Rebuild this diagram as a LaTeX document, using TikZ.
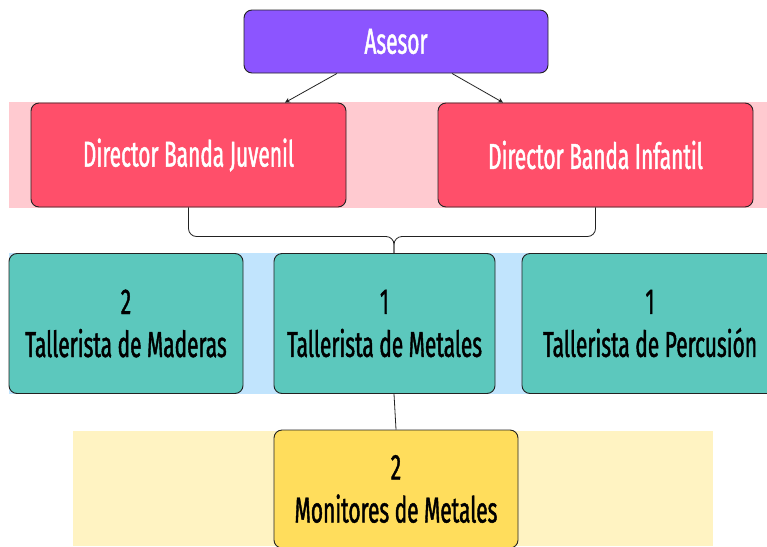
\documentclass[tikz,border=0pt]{standalone}
\usepackage{fontspec}
\setmainfont{Fira Sans}[FakeStretch=0.58, FakeBold=1.2]
\usetikzlibrary{arrows.meta}

\definecolor{asesorc}{HTML}{8C55FF}
\definecolor{dirc}{HTML}{FF4F6A}
\definecolor{pinkband}{HTML}{FFCAD0}
\definecolor{tallc}{HTML}{5CC8BD}
\definecolor{blueband}{HTML}{C1E4FD}
\definecolor{monc}{HTML}{FFDD5C}
\definecolor{yellowband}{HTML}{FFF3C2}
\definecolor{edgec}{HTML}{222222}

\tikzset{
  orgbox/.style={draw=edgec, line width=0.9pt, rounded corners=8pt, align=center,
    font=\fontsize{36}{43}\selectfont, inner sep=0pt},
  boxasesor/.style={orgbox, fill=asesorc, text=white, minimum width=304pt, minimum height=63pt},
  boxdir/.style={orgbox, fill=dirc, text=white, minimum width=315pt, minimum height=104pt},
  boxtall/.style={orgbox, fill=tallc, text=black, minimum height=140pt},
  boxmon/.style={orgbox, fill=monc, text=black, minimum width=244pt, minimum height=118pt},
  link/.style={draw=edgec, line width=0.8pt}
}

\begin{document}
\begin{tikzpicture}[x=1pt, y=-1pt]
    \clip (0,0) rectangle (767,546);
    \fill[white] (0,0) rectangle (767,546);
    % bands
    \fill[pinkband] (9,102) rectangle (767,208);
    \fill[blueband] (9,253) rectangle (767,394);
    \fill[yellowband] (73,431) rectangle (713,546);
    % boxes
    \node[boxasesor] (as) at (396,41.5) {Asesor};
    \node[boxdir] (dj) at (188.5,155) {Director Banda Juvenil};
    \node[boxdir] (di) at (595.5,155) {Director Banda Infantil};
    \node[boxtall, minimum width=234pt] (tmad) at (126,323.5) {2\\Tallerista de Maderas};
    \node[boxtall, minimum width=221pt] (tmet) at (384.5,323.5) {1\\Tallerista de Metales};
    \node[boxtall, minimum width=256pt] (tper) at (650,323.5) {1\\Tallerista de Percusión};
    \node[boxmon] (mon) at (396,489) {2\\Monitores de Metales};
    % connectors
    \draw[link, -{Stealth[length=5pt, width=5pt]}] ([xshift=-59pt]as.south) -- ([xshift=96.5pt]dj.north);
    \draw[link, -{Stealth[length=5pt, width=5pt]}] ([xshift=56pt]as.south) -- ([xshift=-92.5pt]di.north);
    \coordinate (mrg) at (394,236.5);
    \draw[link, rounded corners=8pt] (dj.south) |- (mrg) -- (tmet.north -| mrg);
    \draw[link, rounded corners=8pt] (di.south) |- (mrg) -- (tmet.north -| mrg);
    \draw[link] ([xshift=9.5pt]tmet.south) -- (mon.north);
\end{tikzpicture}
\end{document}
